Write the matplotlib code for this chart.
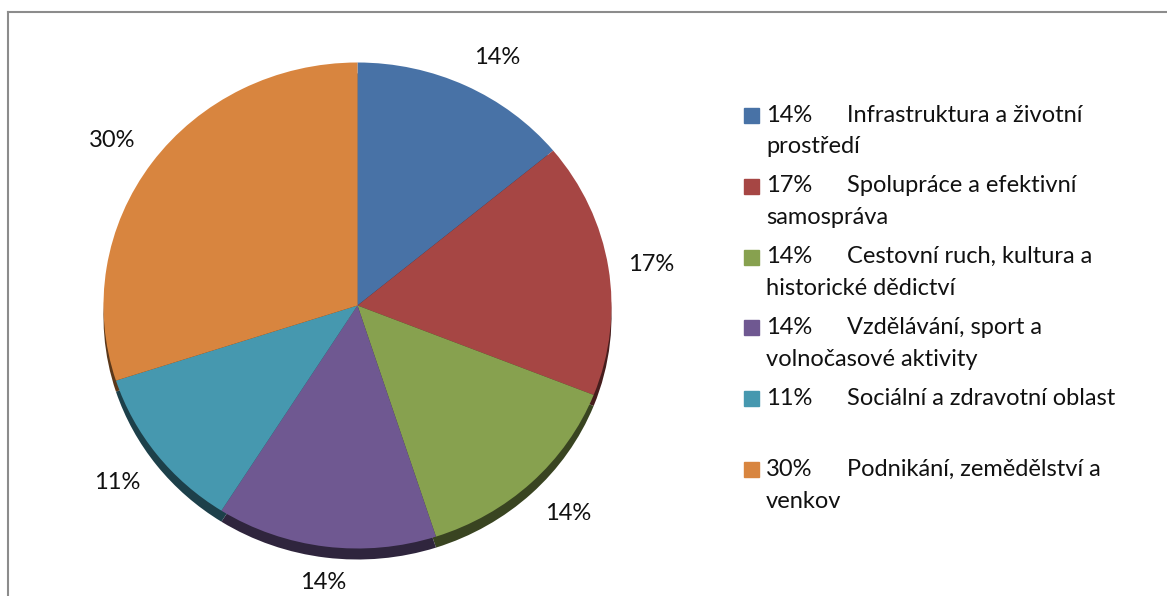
import numpy as np
import matplotlib.pyplot as plt
from matplotlib.patches import Rectangle
from matplotlib.lines import Line2D
import matplotlib.colors as mcolors

plt.rcParams['font.family'] = ['Lato', 'DejaVu Sans']

# data
podil = [14, 17, 14, 14, 11, 30]
oblast_1 = ["Infrastruktura a životní", "Spolupráce a efektivní", "Cestovní ruch, kultura a",
            "Vzdělávání, sport a", "Sociální a zdravotní oblast", "Podnikání, zemědělství a"]
oblast_2 = ["prostředí", "samospráva", "historické dědictví",
            "volnočasové aktivity", "", "venkov"]
barvy = ["#4872A6", "#A64644", "#87A14F", "#6F5891", "#4698AF", "#D8853F"]

W, H = 1167, 596
FS = 17
fig = plt.figure(figsize=(W / 100, H / 100), dpi=100)

# kolac je mirne elipsovity (3D naklon)
cx, cy, rx, ry = 357.5, 305.5, 254, 243
lim = 1.3
aw, ah = 2 * lim * rx, 2 * lim * ry
ax = fig.add_axes([(cx - aw / 2) / W, (H - cy - ah / 2) / H, aw / W, ah / H])

# tmavy bok pod kolacem
tmave = [tuple(c * 0.42 for c in mcolors.to_rgb(b)) for b in barvy]
ax.pie(podil, colors=tmave, startangle=90, counterclock=False, radius=1.0,
       center=(0, -11 / ry), frame=True)
wedges, _ = ax.pie(podil, colors=barvy, startangle=90, counterclock=False, radius=1.0,
                   frame=True)
ax.set_aspect('auto')
ax.set_xlim(-lim, lim)
ax.set_ylim(-lim, lim)
ax.axis('off')

# popisky procent
d = 1.08
for w, p in zip(wedges, podil):
    th = np.deg2rad((w.theta1 + w.theta2) / 2)
    c, s = np.cos(th), np.sin(th)
    ha = 'left' if c > 0.3 else ('right' if c < -0.3 else 'center')
    va = 'bottom' if s > 0.3 else ('top' if s < -0.3 else 'center')
    yy = d * s - (6 / ry if s < -0.3 else 0)
    ax.text(d * c, yy, f"{p}%", ha=ha, va=va, fontsize=FS, color='#111111', clip_on=False)

# legenda
y0 = 115
for i, p in enumerate(podil):
    y = y0 + i * 70.8
    fig.add_artist(Rectangle((744 / W, 1 - (y + 8) / H), 15 / W, 15 / H,
                             transform=fig.transFigure, color=barvy[i]))
    fig.text(766 / W, 1 - y / H, f"{p}%", fontsize=FS, va='center', color='#111111')
    fig.text(847 / W, 1 - y / H, oblast_1[i], fontsize=FS, va='center', color='#111111')
    if oblast_2[i]:
        fig.text(766 / W, 1 - (y + 32) / H, oblast_2[i], fontsize=FS, va='center', color='#111111')

# ramecek grafu
fig.add_artist(Line2D([8 / W, 8 / W], [0, 1 - 12 / H], transform=fig.transFigure,
                      color='#8c8c8c', lw=1.5))
fig.add_artist(Line2D([8 / W, 1], [1 - 12 / H, 1 - 12 / H], transform=fig.transFigure,
                      color='#8c8c8c', lw=1.5))

plt.savefig("out.png", dpi=100)
